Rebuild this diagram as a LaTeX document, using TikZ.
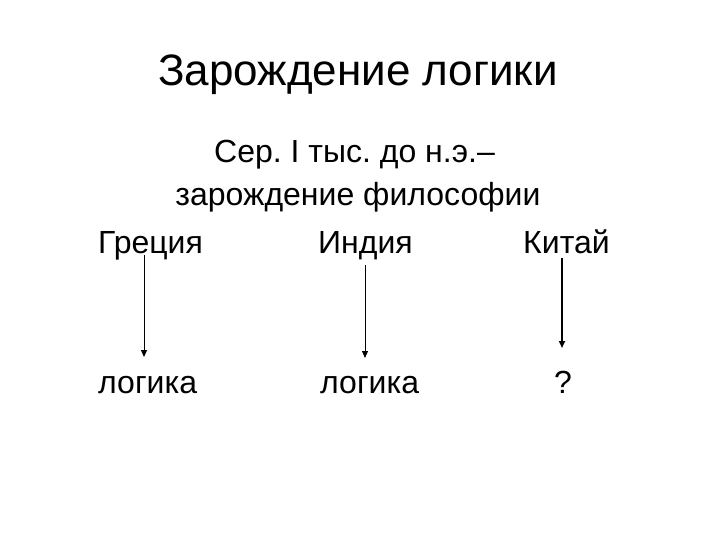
\documentclass[tikz,border=0pt]{standalone}
\usepackage{fontspec}
\setmainfont{Liberation Sans}
\usetikzlibrary{arrows.meta}
\begin{document}
\frenchspacing
\begin{tikzpicture}[x=1pt,y=-1pt,
  txt/.style={inner sep=0pt,font=\fontsize{32}{38}\selectfont},
  ttl/.style={inner sep=0pt,font=\fontsize{44}{50}\selectfont},
  arr/.style={draw=black,line width=1pt,-{Triangle[length=7pt,width=6pt]}}]
\useasboundingbox (0,0) rectangle (720,540);
\node[ttl,anchor=base] (title) at (358,86) {Зарождение логики};
\node[txt,anchor=base west] (l1) at (214,163) {Сер. I тыс. до н.э.–};
\node[txt,anchor=base] (l2) at (358,206) {зарождение философии};
\node[txt,anchor=base west] (gr) at (98,253) {Греция};
\node[txt,anchor=base west] (in) at (318,253) {Индия};
\node[txt,anchor=base west] (ki) at (523,253) {Китай};
\node[txt,anchor=base west] (lg1) at (98,393) {логика};
\node[txt,anchor=base west] (lg2) at (320,393) {логика};
\node[txt,anchor=base] (q) at (563,393) {?};
\coordinate (a1s) at (144,255); \coordinate (a1e) at (144,357);
\coordinate (a2s) at (365,265); \coordinate (a2e) at (365,358);
\coordinate (a3s) at (562,258); \coordinate (a3e) at (562,348);
\draw[arr] (a1s) -- (a1e);
\draw[arr] (a2s) -- (a2e);
\draw[arr,line width=1.6pt] (a3s) -- (a3e);
\end{tikzpicture}
\end{document}
